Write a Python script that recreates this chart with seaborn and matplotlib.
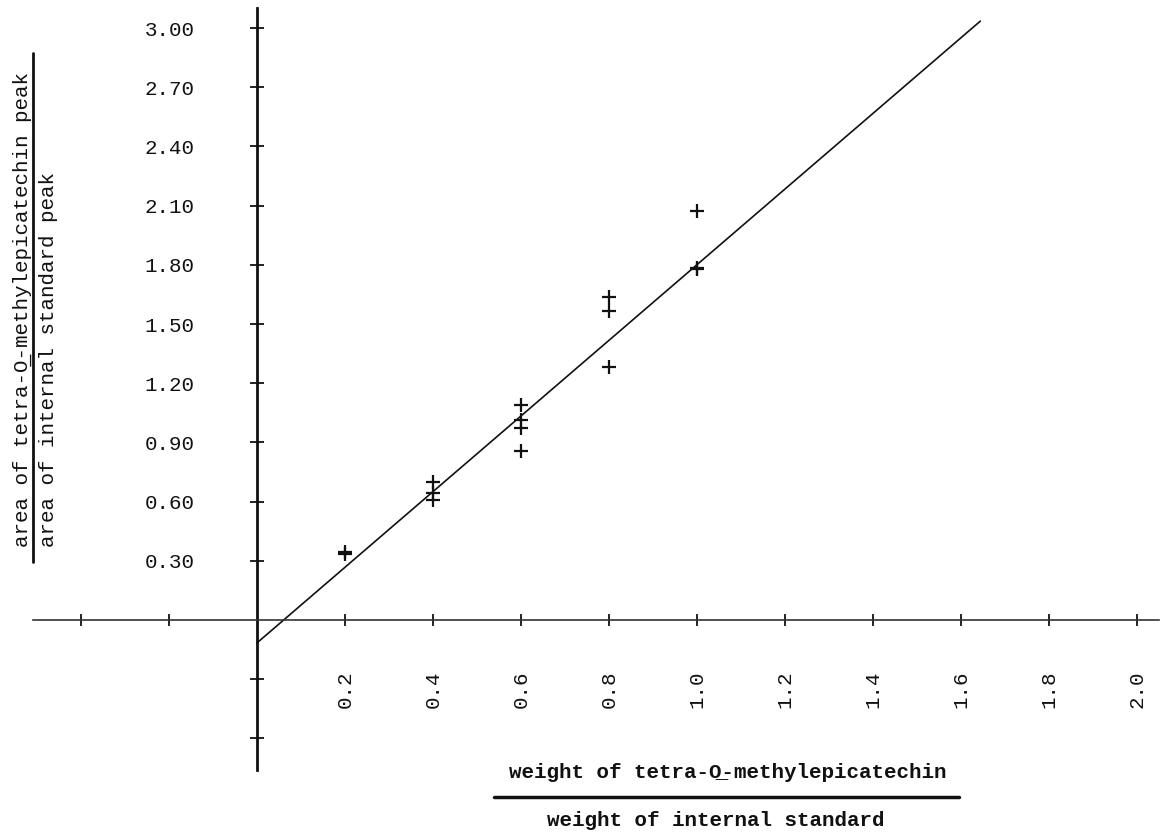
import matplotlib
matplotlib.use("Agg")
import matplotlib.pyplot as plt
import seaborn as sns
from matplotlib.lines import Line2D

# ── data ────────────────────────────────────────────────────────────────────
weight_ratio = [0.2, 0.2,
                0.4, 0.4, 0.4,
                0.6, 0.6, 0.6, 0.6,
                0.8, 0.8, 0.8,
                1.0, 1.0, 1.0]
area_ratio = [0.335, 0.345,
              0.70, 0.644, 0.608,
              1.09, 1.014, 0.973, 0.856,
              1.637, 1.566, 1.282,
              2.073, 1.785, 1.779]

# least-squares line as drawn
fit_x = [0.0, 1.644]
fit_y = [-0.116, 3.035]

x_ticks = [-0.4, -0.2, 0.2, 0.4, 0.6, 0.8, 1.0, 1.2, 1.4, 1.6, 1.8, 2.0]
y_ticks = [-0.6, -0.3, 0.3, 0.6, 0.9, 1.2, 1.5, 1.8, 2.1, 2.4, 2.7, 3.0]
x_ticklabels = ["" if v < 0 else f"{v:.1f}" for v in x_ticks]
y_ticklabels = ["" if v < 0 else f"{v:.2f}" for v in y_ticks]

y_label_top = "area of tetra-O\u0332-methylepicatechin peak"
y_label_bottom = "area of internal standard peak"
x_label_top = "weight of tetra-O\u0332-methylepicatechin"
x_label_bottom = "weight of internal standard"

INK = "#111111"
W, H = 1166, 832

sns.set_style("white")
plt.rcParams["font.family"] = ["Liberation Mono", "DejaVu Sans Mono"]

fig = plt.figure(figsize=(W / 100, H / 100), dpi=100)
ax = fig.add_axes([0, 0, 1, 1])

sns.lineplot(x=fit_x, y=fit_y, color=INK, lw=1.2, ax=ax)
sns.scatterplot(x=weight_ratio, y=area_ratio, marker="+", s=110,
                color=INK, linewidth=1.6, legend=False, ax=ax)

ax.set_xlim(-0.584, 2.066)
ax.set_ylim(-1.074, 3.142)

# axes crossing at the origin
for side in ["top", "right"]:
    ax.spines[side].set_visible(False)
ax.spines["left"].set_position(("data", 0))
ax.spines["bottom"].set_position(("data", 0))
ax.spines["left"].set_bounds(-0.76, 3.10)
ax.spines["bottom"].set_bounds(-0.51, 2.05)
ax.spines["left"].set_linewidth(2.0)
ax.spines["bottom"].set_linewidth(1.2)
ax.spines["left"].set_color(INK)
ax.spines["bottom"].set_color("#333333")

ax.set_xticks(x_ticks)
ax.set_xticklabels(x_ticklabels, rotation=90, fontsize=15, color=INK)
ax.set_yticks(y_ticks)
ax.set_yticklabels(y_ticklabels, fontsize=15, color=INK)
ax.tick_params(axis="x", bottom=True, direction="inout", length=9,
               width=1.3, colors=INK, pad=32)
ax.tick_params(axis="y", left=True, direction="inout", length=10,
               width=1.3, colors=INK, pad=40)
ax.set_xlabel("")
ax.set_ylabel("")
ax.grid(False)

# y-axis fraction label
fig.text(22 / W, 1 - 547 / H, y_label_top, rotation=90, ha="center",
         va="bottom", fontsize=15, color=INK)
fig.text(49 / W, 1 - 547 / H, y_label_bottom, rotation=90, ha="center",
         va="bottom", fontsize=15, color=INK)
fig.add_artist(Line2D([33 / W, 33 / W], [1 - 53 / H, 1 - 562 / H],
                      color=INK, lw=2.0, transform=fig.transFigure))

# x-axis fraction label
fig.text(728 / W, 1 - 773 / H, x_label_top, ha="center", va="center",
         fontsize=15, fontweight="bold", color=INK)
fig.text(716 / W, 1 - 820 / H, x_label_bottom, ha="center", va="center",
         fontsize=15, fontweight="bold", color=INK)
fig.add_artist(Line2D([494 / W, 959 / W], [1 - 797 / H, 1 - 797 / H],
                      color=INK, lw=2.5, transform=fig.transFigure))

fig.savefig("out.png", dpi=100, facecolor="white")
plt.close(fig)
